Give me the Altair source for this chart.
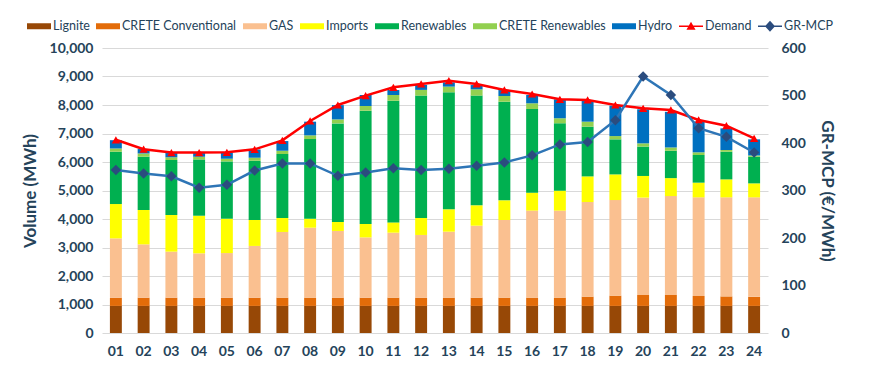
import altair as alt
import pandas as pd

hours = [f"{h:02d}" for h in range(1, 25)]

series = ["Lignite", "CRETE Conventional", "GAS", "Imports", "Renewables",
          "CRETE Renewables", "Hydro"]
series_colors = ["#974806", "#E36C09", "#FAC090", "#FFFF00", "#00B050",
                 "#92D050", "#0070C0"]

lignite = [950] * 24
crete_conv = [290] * 17 + [325, 360, 385, 385, 350, 335, 320]
gas = [2080, 1870, 1615, 1555, 1565, 1815, 2305, 2455, 2340, 2115, 2280, 2200,
       2315, 2525, 2725, 3055, 3055, 3320, 3355, 3415, 3470, 3460, 3475, 3490]
imports = [1205, 1205, 1285, 1320, 1205, 910, 490, 315, 315, 470, 360, 595,
           785, 715, 690, 630, 700, 900, 900, 760, 630, 515, 630, 490]
renewables = [1835, 1870, 1930, 1975, 2010, 2080, 2245, 2795, 3460, 3975, 4270, 4295,
              4105, 3850, 3460, 2935, 2365, 1745, 1230, 1030, 960, 970, 970, 935]
crete_ren = [115, 115, 95, 95, 95, 105, 115, 130, 140, 165, 200, 200,
             200, 220, 200, 200, 175, 175, 115, 115, 115, 95, 60, 45]
hydro = [290, 155, 165, 140, 220, 290, 340, 480, 500, 385, 175, 175,
         150, 150, 210, 290, 665, 735, 1065, 1195, 1250, 1080, 760, 565]

demand = [6780, 6450, 6330, 6330, 6340, 6445, 6760, 7440, 8000, 8330, 8620, 8737,
          8854, 8737, 8527, 8386, 8199, 8176, 8000, 7883, 7825, 7474, 7275, 6831]
gr_mcp = [343, 336, 330, 306, 312, 342, 357, 357, 331, 338, 347, 343,
          346, 352, 359, 374, 397, 402, 448, 540, 501, 431, 413, 380]

stack_values = [lignite, crete_conv, gas, imports, renewables, crete_ren, hydro]

rows = []
for i, h in enumerate(hours):
    for k, (name, vals) in enumerate(zip(series, stack_values)):
        rows.append({"hour": h, "series": name, "idx": k, "value": vals[i]})
bars_df = pd.DataFrame(rows)
lines_df = pd.DataFrame({"hour": hours, "demand": demand, "mcp": gr_mcp})

legend_domain = series + ["Demand", "GR-MCP"]
legend_colors = series_colors + ["#FF0000", "#2B4C7E"]
rect_path = "M-1,-0.25H1V0.25H-1Z"
demand_path = "M-1,-0.07H1V0.07H-1Z M0,-0.38L0.38,0.3H-0.38Z"
mcp_path = "M-1,-0.07H1V0.07H-1Z M0,-0.45L0.42,0L0,0.45L-0.42,0Z"
legend_shapes = [rect_path] * 7 + [demand_path, mcp_path]
legend_df = pd.DataFrame({"series": legend_domain})

TXT = "#25435A"
FONT = "Lato"

x_enc = alt.X("hour:N",
              scale=alt.Scale(paddingInner=0.57, paddingOuter=0.285),
              axis=alt.Axis(title=None, labelAngle=0, ticks=False, domain=False,
                            labelPadding=11, labelFont=FONT, labelFontSize=14,
                            labelFontWeight="bold", labelColor=TXT, grid=False))

left_scale = alt.Scale(domain=[0, 10000])
left_axis = alt.Axis(title="Volume (MWh)", values=list(range(0, 10001, 1000)),
                     format=",d", ticks=False, domain=False, grid=True,
                     labelOverlap=False,
                     gridColor="#D9D9D9", labelPadding=9, labelFont=FONT,
                     labelFontSize=14, labelFontWeight="bold", labelColor=TXT,
                     titleFont=FONT, titleFontSize=17, titleFontWeight="bold",
                     titleColor=TXT, titlePadding=10)

bars = alt.Chart(bars_df).mark_bar().encode(
    x=x_enc,
    y=alt.Y("value:Q", stack=True, scale=left_scale, axis=left_axis),
    color=alt.Color("series:N", scale=alt.Scale(domain=series, range=series_colors),
                    legend=None),
    order=alt.Order("idx:Q", sort="ascending"),
)

demand_line = alt.Chart(lines_df).mark_line(color="#FF0000", strokeWidth=2.5).encode(
    x=x_enc, y=alt.Y("demand:Q", scale=left_scale, axis=left_axis))
demand_pts = alt.Chart(lines_df).mark_point(shape="triangle-up", filled=True, size=70,
                                            color="#FF0000", opacity=1).encode(
    x=x_enc, y=alt.Y("demand:Q", scale=left_scale, axis=left_axis))

left = alt.layer(bars, demand_line, demand_pts)

right_scale = alt.Scale(domain=[0, 600])
right_axis = alt.Axis(title="GR-MCP (€/MWh)", orient="right",
                      values=list(range(0, 601, 100)), format="d", ticks=False,
                      domain=False, grid=False, labelOverlap=False,
                      labelPadding=13, labelFont=FONT, labelFontSize=14,
                      labelFontWeight="bold", labelColor=TXT, titleFont=FONT,
                      titleFontSize=17, titleFontWeight="bold", titleColor=TXT,
                      titlePadding=12)
mcp_line = alt.Chart(lines_df).mark_line(color="#2E75B6", strokeWidth=2.5).encode(
    x=x_enc, y=alt.Y("mcp:Q", scale=right_scale, axis=right_axis))
mcp_pts = alt.Chart(lines_df).mark_point(shape="diamond", filled=True, size=110,
                                         color="#2B4C7E", opacity=1).encode(
    x=x_enc, y=alt.Y("mcp:Q", scale=right_scale, axis=right_axis))

right = alt.layer(mcp_line, mcp_pts)

legend_cfg = dict(orient="none", legendX=-75, legendY=-34, direction="horizontal",
                  columns=9, title=None, labelFont=FONT, labelFontSize=12.5,
                  labelColor=TXT, symbolSize=576, symbolStrokeWidth=0,
                  labelOffset=2, columnPadding=6)
legend_layer = alt.Chart(legend_df).mark_point(filled=True, size=576, opacity=1).encode(
    fill=alt.Fill("series:N", scale=alt.Scale(domain=legend_domain, range=legend_colors),
                  legend=alt.Legend(**legend_cfg)),
    shape=alt.Shape("series:N", scale=alt.Scale(domain=legend_domain, range=legend_shapes),
                    legend=alt.Legend(**legend_cfg)),
).transform_filter("false")

chart = alt.layer(left, right, legend_layer).resolve_scale(y="independent").properties(
    width=666, height=285,
    autosize=alt.AutoSizeParams(type="none"),
    padding={"left": 94, "top": 40, "right": 95, "bottom": 24},
).configure_view(stroke=None)

chart.save("out.html", embed_options={"renderer": "svg", "actions": False})
